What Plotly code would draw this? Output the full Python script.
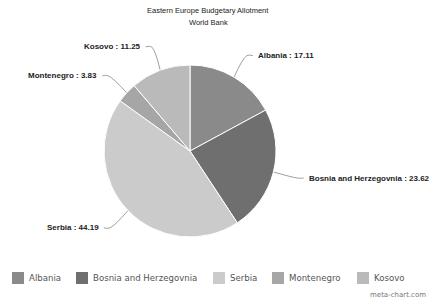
import math
import plotly.graph_objects as go

# ---- data ----
countries = ["Albania", "Bosnia and Herzegovnia", "Serbia", "Montenegro", "Kosovo"]
allotment = [17.11, 23.62, 44.19, 3.83, 11.25]
slice_colors = ["#8a8a8a", "#6f6f6f", "#cbcbcb", "#a6a6a6", "#bababa"]

title_line1 = "Eastern Europe Budgetary Allotment"
title_line2 = "World Bank"
credit = "meta-chart.com"

# ---- layout geometry (pixels) ----
W, H = 433, 302
cx, cy, R = 190, 151, 86
lead_radial = 25
lead_horiz = 6
text_gap = 3
legend_x = [12, 76, 213, 272, 357]   # left edge of each legend entry
legend_y = 278
legend_box = 12

fig = go.Figure()

fig.add_trace(go.Pie(
    labels=countries,
    values=allotment,
    sort=False,
    direction="clockwise",
    rotation=0,
    marker=dict(colors=slice_colors, line=dict(color="white", width=1)),
    textinfo="none",
    hoverinfo="label+value",
    domain=dict(x=[(cx - R) / W, (cx + R) / W], y=[(H - cy - R) / H, (H - cy + R) / H]),
    showlegend=False,
))

# leader lines and labels computed from the values
total = sum(allotment)
cum = 0.0
annotations = []
shapes = []
for name, v in zip(countries, allotment):
    mid = (cum + v / 2) / total
    cum += v
    ang = 2 * math.pi * mid
    sx, sy = math.sin(ang), -math.cos(ang)
    px, py = cx + R * sx, cy + R * sy
    qx, qy = cx + (R + lead_radial) * sx, cy + (R + lead_radial) * sy
    side = 1 if sx >= 0 else -1
    ex = qx + side * lead_horiz
    fig.add_trace(go.Scatter(
        x=[px, qx, ex], y=[py, qy, qy], mode="lines",
        line=dict(color="#a0a0a0", width=1, shape="spline"),
        hoverinfo="skip", showlegend=False, xaxis="x", yaxis="y",
    ))
    annotations.append(dict(
        x=ex + side * text_gap, y=qy, xref="x", yref="y",
        text=f"<b>{name} : {v:g}</b>", showarrow=False,
        xanchor="left" if side > 0 else "right", yanchor="middle",
        font=dict(family="Liberation Sans, Arial, sans-serif", size=8, color="#222222"),
    ))

# legend (boxes + names)
for name, col, lx in zip(countries, slice_colors, legend_x):
    shapes.append(dict(
        type="rect", xref="x", yref="y",
        x0=lx, x1=lx + legend_box,
        y0=legend_y - legend_box / 2, y1=legend_y + legend_box / 2,
        fillcolor=col, line=dict(width=0),
    ))
    annotations.append(dict(
        x=lx + legend_box + 3, y=legend_y, xref="x", yref="y",
        text=name, showarrow=False, xanchor="left", yanchor="middle",
        font=dict(family="DejaVu Sans, sans-serif", size=8.6, color="#555555"),
    ))

annotations += [
    dict(x=208, y=10, xref="x", yref="y", text=title_line1,
         showarrow=False, xanchor="center", yanchor="middle",
         font=dict(family="Liberation Sans, Arial, sans-serif", size=7.5, color="#222222")),
    dict(x=208, y=22, xref="x", yref="y", text=title_line2,
         showarrow=False, xanchor="center", yanchor="middle",
         font=dict(family="Liberation Sans, Arial, sans-serif", size=7.5, color="#222222")),
    dict(x=428, y=295, xref="x", yref="y", text=credit,
         showarrow=False, xanchor="right", yanchor="middle",
         font=dict(family="DejaVu Sans, sans-serif", size=7, color="#777777")),
]

fig.update_layout(
    width=W, height=H,
    margin=dict(l=0, r=0, t=0, b=0),
    paper_bgcolor="white", plot_bgcolor="white",
    xaxis=dict(range=[0, W], domain=[0, 1], visible=False, fixedrange=True),
    yaxis=dict(range=[H, 0], domain=[0, 1], visible=False, fixedrange=True),
    annotations=annotations,
    shapes=shapes,
    showlegend=False,
)

fig.write_html("out.html", config={"displayModeBar": False},
               post_script="document.body.style.margin='0';")
